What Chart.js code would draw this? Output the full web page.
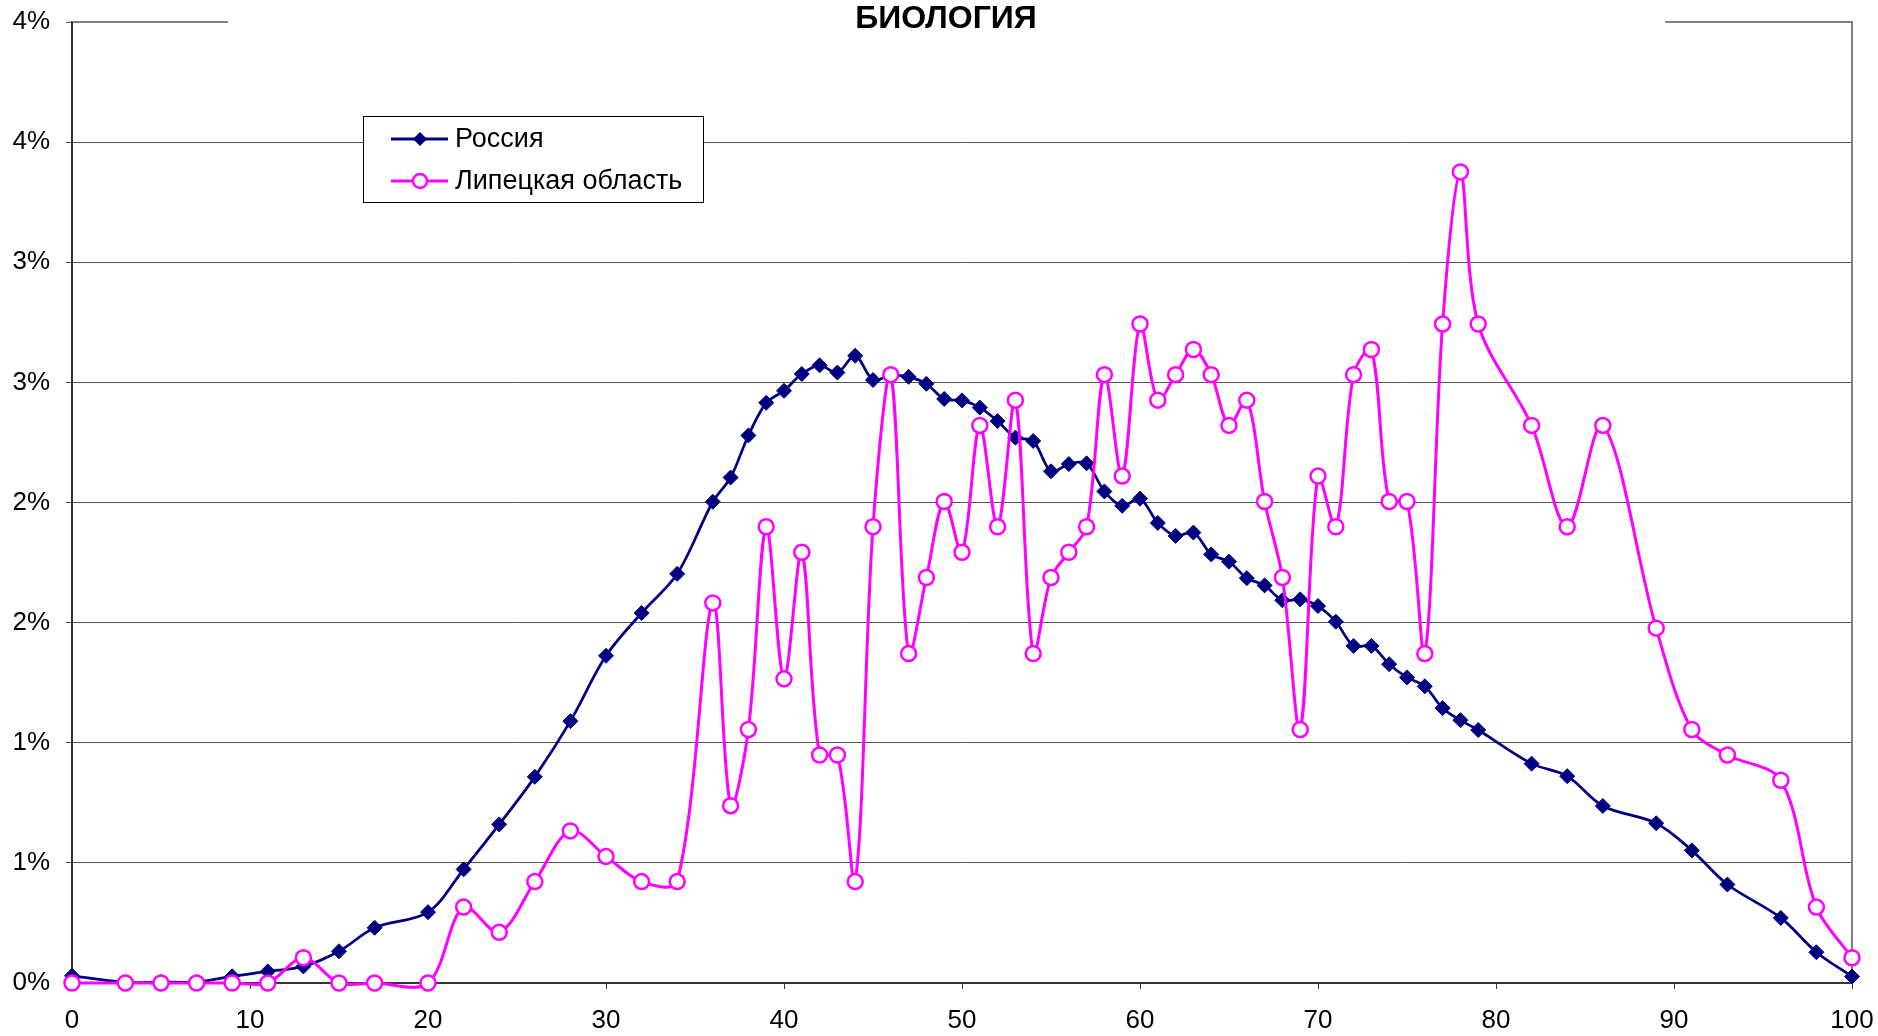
<!DOCTYPE html>
<html>
<head>
<meta charset="utf-8">
<script src="https://cdn.jsdelivr.net/npm/chart.js@4/dist/chart.umd.min.js"></script>
<style>
  html, body { margin: 0; padding: 0; background: #ffffff; }
  #wrap { width: 1878px; height: 1036px; }
</style>
</head>
<body>
<div id="wrap"><canvas id="c" width="1878" height="1036"></canvas></div>
<script>
// ---- data ----
const chartTitle = 'БИОЛОГИЯ';
const seriesNames = ['Россия', 'Липецкая область'];
const scores = [0, 3, 5, 7, 9, 11, 13, 15, 17, 20, 22, 24, 26, 28, 30, 32, 34,
  36, 37, 38, 39, 40, 41, 42, 43, 44, 45, 46, 47, 48, 49, 50, 51, 52, 53, 54, 55, 56, 57,
  58, 59, 60, 61, 62, 63, 64, 65, 66, 67, 68, 69, 70, 71, 72, 73, 74, 75, 76, 77, 78, 79,
  82, 84, 86, 89, 91, 93, 96, 98, 100];
const russia = [0.030, 0.003, 0.004, 0.004, 0.028, 0.048, 0.069, 0.132, 0.230, 0.295, 0.473, 0.660, 0.858, 1.090, 1.362, 1.540, 1.703,
  2.003, 2.104, 2.279, 2.415, 2.465, 2.535, 2.571, 2.541, 2.611, 2.510, 2.530, 2.523, 2.494, 2.431, 2.425, 2.395, 2.339, 2.270, 2.256, 2.130, 2.160, 2.163,
  2.046, 1.986, 2.016, 1.915, 1.861, 1.875, 1.784, 1.754, 1.685, 1.655, 1.593, 1.597, 1.569, 1.504, 1.403, 1.403, 1.327, 1.272, 1.235, 1.144, 1.094, 1.053,
  0.913, 0.861, 0.737, 0.665, 0.552, 0.410, 0.271, 0.128, 0.027];
const lipetsk = [0, 0, 0, 0, 0, 0, 0.105, 0, 0, 0, 0.316, 0.211, 0.422, 0.633, 0.527, 0.422, 0.422,
  1.582, 0.738, 1.055, 1.899, 1.266, 1.793, 0.949, 0.949, 0.422, 1.899, 2.532, 1.371, 1.688, 2.004, 1.793, 2.321, 1.899, 2.426, 1.371, 1.688, 1.793, 1.899,
  2.532, 2.110, 2.743, 2.426, 2.532, 2.637, 2.532, 2.321, 2.426, 2.004, 1.688, 1.055, 2.110, 1.899, 2.532, 2.637, 2.004, 2.004, 1.371, 2.743, 3.376, 2.743,
  2.321, 1.899, 2.321, 1.477, 1.055, 0.949, 0.844, 0.316, 0.105];
const yTickLabels = ['0%', '1%', '1%', '2%', '2%', '3%', '3%', '4%', '4%'];
const xTickLabels = ['0', '10', '20', '30', '40', '50', '60', '70', '80', '90', '100'];

// ---- styling ----
const FONT = 'Arial, "Liberation Sans", sans-serif';
const NAVY = '#000080';
const MAGENTA = '#FF00FF';

function pts(xs, ys) { return xs.map((x, i) => ({ x: x, y: ys[i] })); }

const decoPlugin = {
  id: 'deco',
  beforeDatasetsDraw(chart) {
    const ctx = chart.ctx, a = chart.chartArea;
    ctx.save();
    ctx.strokeStyle = '#808080';
    ctx.lineWidth = 2;
    ctx.beginPath();
    ctx.moveTo(a.left, a.top);
    ctx.lineTo(a.right, a.top);
    ctx.lineTo(a.right, a.bottom);
    ctx.stroke();
    ctx.strokeStyle = '#333333';
    ctx.beginPath();
    ctx.moveTo(a.left, a.top);
    ctx.lineTo(a.left, a.bottom);
    ctx.lineTo(a.right, a.bottom);
    ctx.stroke();
    ctx.restore();
  },
  afterDraw(chart) {
    const ctx = chart.ctx;
    ctx.save();
    // title with white background that interrupts the top line
    ctx.fillStyle = '#ffffff';
    ctx.fillRect(228, 6, 1437, 30);
    ctx.fillStyle = '#000000';
    ctx.font = 'bold 32px ' + FONT;
    ctx.textAlign = 'center';
    ctx.textBaseline = 'alphabetic';
    ctx.fillText(chartTitle, 946, 28);

    // legend box
    const lx = 363, ly = 116, lw = 340, lh = 86;
    ctx.fillStyle = '#ffffff';
    ctx.fillRect(lx, ly, lw, lh);
    ctx.strokeStyle = '#000000';
    ctx.lineWidth = 1;
    ctx.strokeRect(lx + 0.5, ly + 0.5, lw, lh);

    const rows = [
      { y: 139, color: NAVY, kind: 'diamond', label: seriesNames[0] },
      { y: 181, color: MAGENTA, kind: 'circle', label: seriesNames[1] }
    ];
    rows.forEach(r => {
      ctx.strokeStyle = r.color;
      ctx.lineWidth = 3;
      ctx.beginPath();
      ctx.moveTo(391, r.y);
      ctx.lineTo(448, r.y);
      ctx.stroke();
      if (r.kind === 'diamond') {
        ctx.fillStyle = r.color;
        ctx.beginPath();
        ctx.moveTo(420 - 7, r.y);
        ctx.lineTo(420, r.y - 7);
        ctx.lineTo(420 + 7, r.y);
        ctx.lineTo(420, r.y + 7);
        ctx.closePath();
        ctx.fill();
      } else {
        ctx.fillStyle = '#ffffff';
        ctx.lineWidth = 2.5;
        ctx.beginPath();
        ctx.arc(420, r.y, 7, 0, Math.PI * 2);
        ctx.fill();
        ctx.stroke();
      }
      ctx.fillStyle = '#000000';
      ctx.font = '27px ' + FONT;
      ctx.textAlign = 'left';
      ctx.textBaseline = 'middle';
      ctx.fillText(r.label, 455, r.y + 1);
    });
    ctx.restore();
  }
};

new Chart(document.getElementById('c'), {
  type: 'line',
  data: {
    datasets: [
      {
        label: seriesNames[0],
        data: pts(scores, russia),
        borderColor: NAVY,
        backgroundColor: NAVY,
        borderWidth: 2.75,
        pointStyle: 'rectRot',
        pointRadius: 7.5,
        pointBorderWidth: 1,
        pointBorderColor: NAVY,
        pointBackgroundColor: NAVY,
        tension: 0.33,
        fill: false,
        clip: false,
        order: 1
      },
      {
        label: seriesNames[1],
        data: pts(scores, lipetsk),
        borderColor: MAGENTA,
        backgroundColor: '#ffffff',
        borderWidth: 3,
        pointStyle: 'circle',
        pointRadius: 7.5,
        pointBorderWidth: 2.5,
        pointBorderColor: MAGENTA,
        pointBackgroundColor: '#ffffff',
        tension: 0.33,
        fill: false,
        clip: false,
        order: 0
      }
    ]
  },
  options: {
    responsive: false,
    animation: false,
    devicePixelRatio: 1,
    layout: { padding: { top: 22, right: 26, left: 0, bottom: 0 } },
    elements: { line: { capBezierPoints: false } },
    plugins: {
      legend: { display: false },
      title: { display: false },
      tooltip: { enabled: false }
    },
    scales: {
      x: {
        type: 'linear',
        min: 0,
        max: 100,
        afterFit(s) { s.height = 53; s.paddingLeft = 0; s.paddingRight = 0; },
        afterBuildTicks(s) { s.ticks = xTickLabels.map((t, i) => ({ value: i * 10 })); },
        ticks: {
          stepSize: 10,
          padding: 16,
          color: '#000000',
          font: { family: FONT, size: 26 },
          maxRotation: 0,
          autoSkip: false,
          callback: (v, i) => xTickLabels[i]
        },
        grid: { drawOnChartArea: false, drawTicks: true, tickLength: 6, color: '#333333', lineWidth: 1 },
        border: { display: true, color: '#333333', width: 2 }
      },
      y: {
        type: 'linear',
        min: 0,
        max: 4,
        afterFit(s) { s.width = 72; s.paddingTop = 0; s.paddingBottom = 0; },
        afterBuildTicks(s) { s.ticks = yTickLabels.map((t, i) => ({ value: i * 0.5 })); },
        ticks: {
          stepSize: 0.5,
          padding: 16,
          color: '#000000',
          font: { family: FONT, size: 26 },
          autoSkip: false,
          callback: (v, i) => yTickLabels[i]
        },
        grid: { color: '#555555', lineWidth: 1, tickLength: 6, drawTicks: true },
        border: { display: true, color: '#333333', width: 2 }
      }
    }
  },
  plugins: [decoPlugin]
});
</script>
</body>
</html>
